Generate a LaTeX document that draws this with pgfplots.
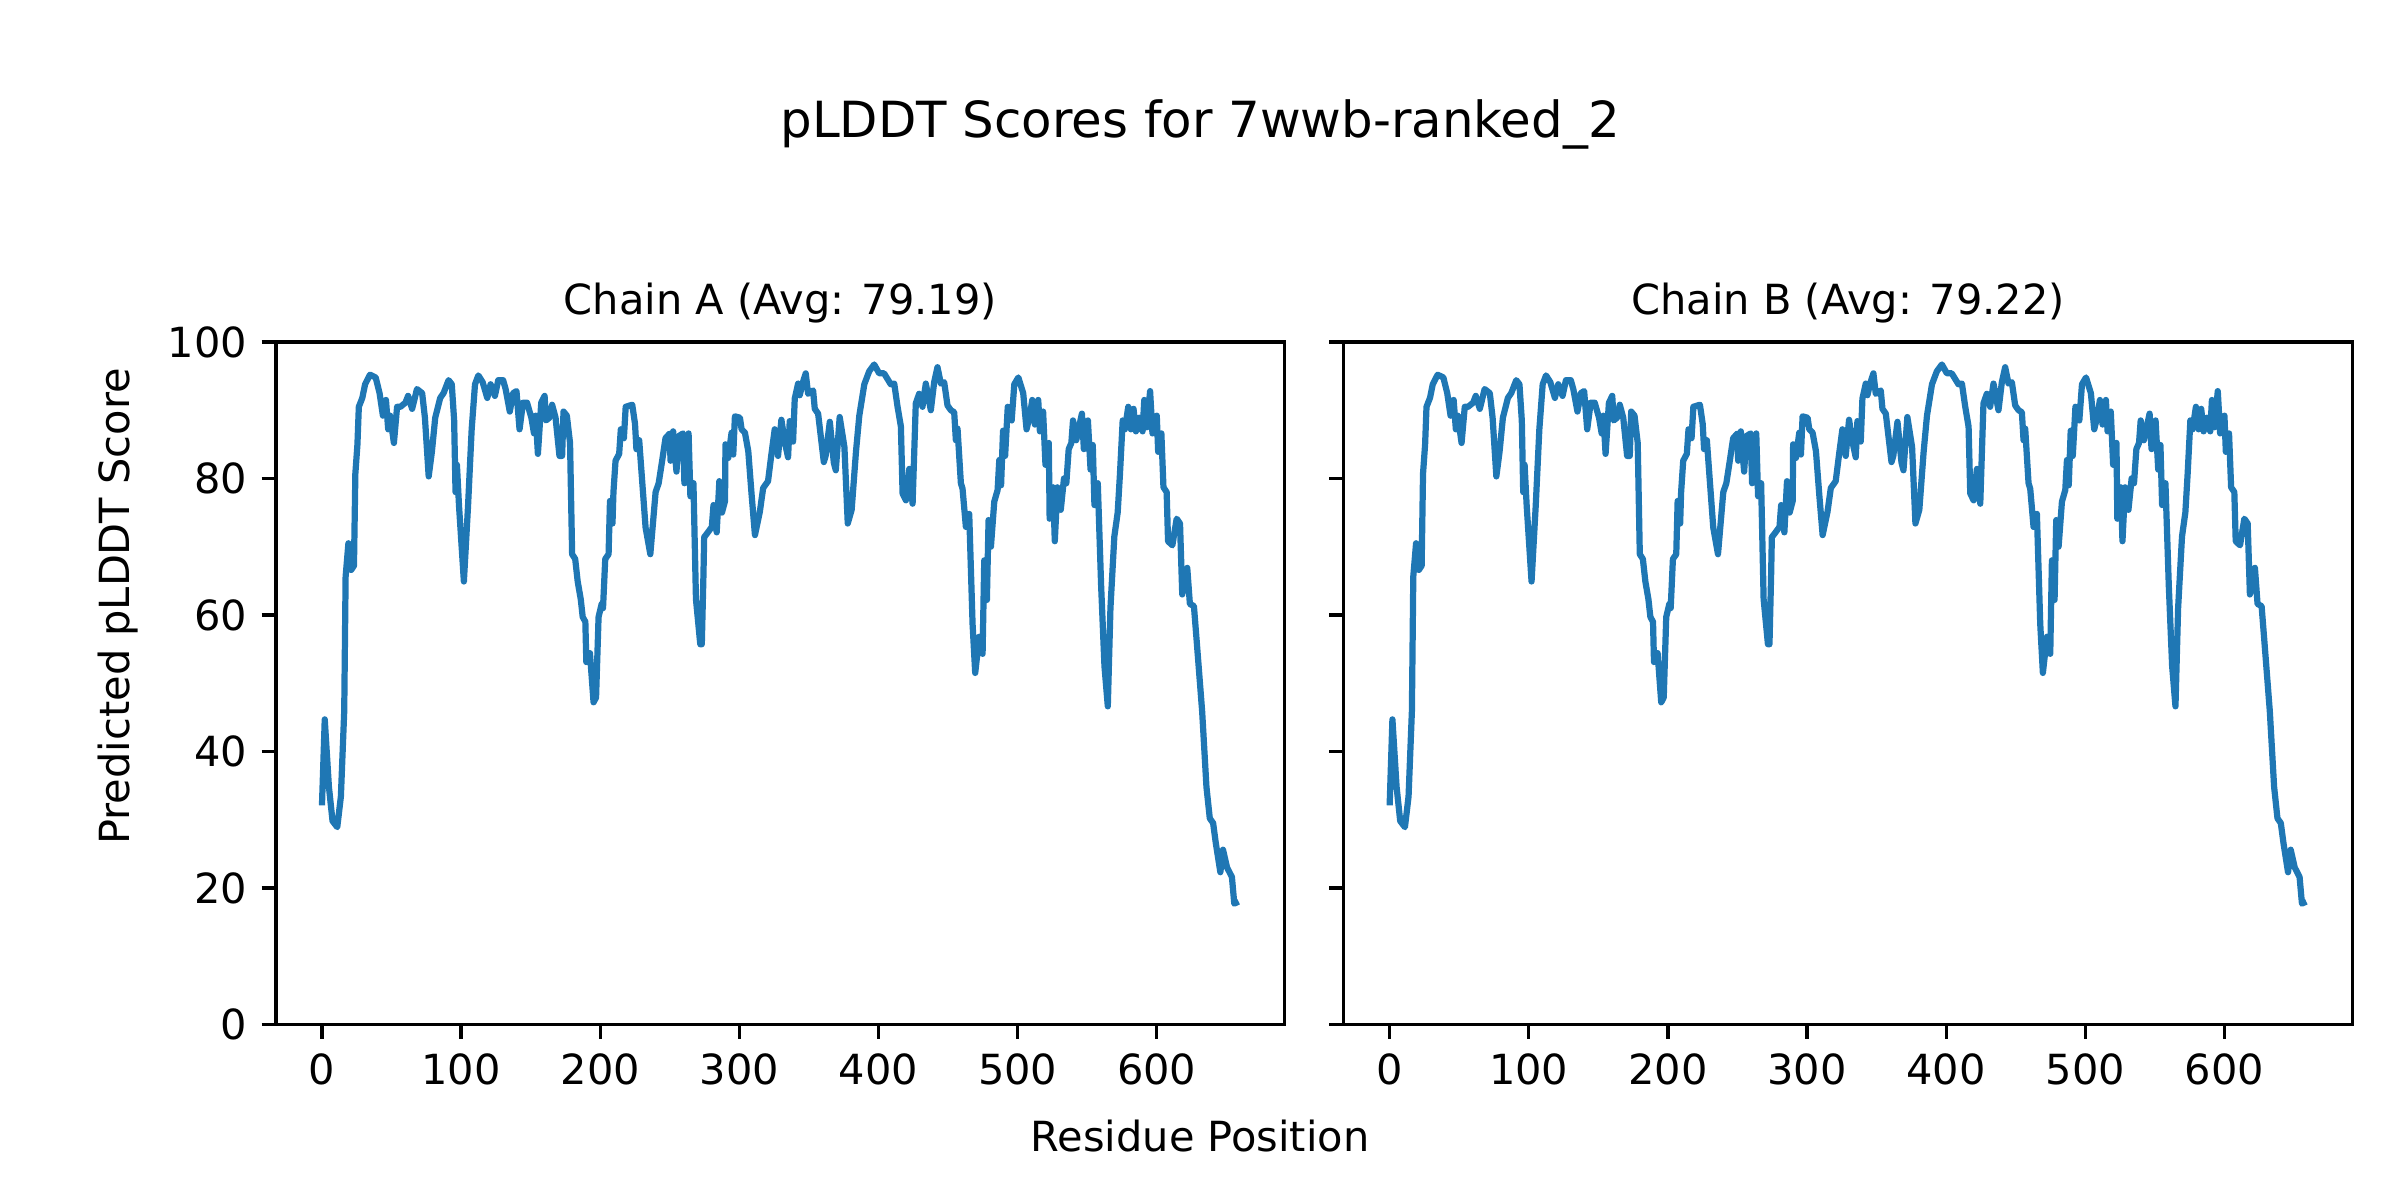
\documentclass[border=0pt]{standalone}
\usepackage{fontspec}
\setmainfont{DejaVu Sans}
\usepackage{pgfplots}
\usepackage{pgfplotstable}
\pgfplotsset{compat=1.18}
\definecolor{mplblue}{HTML}{1F77B4}

% per-residue pLDDT (both chains look the same)
\pgfplotstableread{
res score
0 32.1
2 44.7
5 34.8
7.6 29.8
11 28.9
13.6 33.4
16 45.9
17 65.6
19 70.5
21 66.6
23 67.2
24 80.7
25.5 85
26.5 90.5
29 91.8
31 93.8
34.5 95.2
38.6 94.8
41.4 92.5
43.8 89.2
46 91.5
47.6 87.2
49 89.2
51.7 85.2
54 90.5
56.4 90.5
60 91.1
61.9 92.1
64.8 90.2
68.3 93.1
72 92.5
74 88.9
76.7 80.3
79 83.9
81.4 88.9
85 91.8
87.4 92.5
91 94.4
93.3 93.8
95 88.5
96 78
97 82
98.5 76
102 64.9
105 76
107.6 87.2
110 93.8
112.4 95.1
115.5 94.1
118.8 91.8
121.2 93.8
124.3 92.1
126.7 94.4
130.2 94.4
132 93.1
135 89.8
137.4 92.5
139.8 92.8
142 87.2
144.5 91.1
147.4 91.1
150.5 88.9
152.4 86.6
153.6 89.2
155.2 83.6
157.6 91.1
160 92.1
161 88.5
163.5 88.9
165.4 90.8
167.9 88.9
170.7 83.3
172.6 83.3
173.6 89.8
176 89.2
178.3 85.2
179.8 68.9
182 68.2
183.8 64.9
186 62.3
187.4 59.7
189.3 59.0
190 53.1
192.6 54.4
195.2 47.2
197 47.9
198.8 59.7
201 61.6
202 61
203.6 68.2
206 68.9
207 76.7
208.8 73.4
209.5 78
211 82.6
213.6 83.6
214.8 87.2
217 85.9
218.3 90.5
223 90.8
225 88
226 84.3
228 85.6
230 80
232.6 72.8
236 68.9
239.8 78
242 79.3
244.5 82.6
246.9 85.9
250 86.6
250.5 82.6
252.4 86.9
254.8 81
256.4 86.2
259.5 86.6
260.5 79.3
263.5 86.6
264.8 77.4
267 79.3
268.8 62.3
271.9 55.7
273 55.7
274.2 66
274.7 71.4
277 72
280.2 72.9
281.4 76.1
283.7 72.1
285.6 79.6
287.5 75
289.7 76.7
290 85
292 83
294.4 86.7
295.6 83.5
296.8 89.1
300.4 88.9
301.6 87.2
304 86.7
306.4 84
308.8 77.6
311.2 71.7
314.7 75.1
317.1 78.6
320.6 79.6
323 83.5
325.4 87.2
327.8 83.3
330.2 88.6
332.6 85.4
335 83.1
336.2 88.4
338.6 85.4
339.8 91.7
342.2 93.9
343.4 92.2
345.5 94
347.7 95.4
349.4 92.4
353 92.9
354.2 90.2
356.6 89.5
360.7 82.4
362 83.3
365 88.3
367.9 82.3
369.3 81.2
372.1 89
375.5 84.6
377.9 73.4
380.7 75.4
383.8 83.9
386.2 89.2
389.8 93.8
393.3 95.7
396.9 96.7
400.5 95.4
404 95.4
408.8 93.8
411.3 93.9
413.7 90.5
416.1 87.6
417.3 77.8
419.7 76.8
422.1 81.4
424.5 76.3
426.8 91
429.2 92.4
431.6 90.5
434 93.9
437.6 90
440 94.1
442.4 96.3
444.8 93.9
447.2 94.1
449.6 90.7
452 90
454.4 89.7
455.6 85.6
456.8 87.3
459.2 79.3
460.4 78.5
462.8 72.9
465.2 74.8
467.6 58.7
469.5 51.5
472.4 56.8
474.8 54.3
476 68
477.9 62.2
479.1 73.9
480.8 70
483.2 76.6
485.6 78.3
486.8 82.7
488.1 79
489.5 87
491 83.3
492.9 90.5
495.7 88.5
497.6 93.8
500.5 94.8
504 92.5
506.4 87.2
508.8 89.2
510.5 91.5
512.4 87.9
514.8 91.5
516 86.9
518.3 89.8
520 82
522.4 85.2
523 74.1
525.5 78.7
526.7 70.8
528.6 78.7
531 75.4
533.3 80
535 79.3
536.7 84.3
538.6 85.2
539.8 88.5
542.1 85.6
546.2 89.5
547.6 84.3
550.5 88.5
552.4 81.3
554 84.9
555.2 76.1
557.6 79.3
560 64.3
562.4 52.5
564.8 46.6
566.7 61
569.5 71.5
571.9 75
573.5 80.5
575.5 88.5
577.1 87.2
579.5 90.5
581.4 87.2
583.3 90.2
585 86.9
587.4 88.9
589.8 86.9
591 91.5
592.9 87.5
595.2 92.8
596.9 86.6
600 89.2
601 83.9
603.3 86.6
604.8 78.7
607.1 78
608.1 70.8
611.2 70.2
614.3 74.1
616.7 73.4
618.3 63
621.9 66.9
623.8 61.6
626.7 61.3
628.6 56.4
632.6 45.9
635.7 34.8
638.1 30.2
640.5 29.5
642.4 26.6
645.7 22.3
647.6 25.6
650.5 23
654 21.6
655.7 17.7
658.8 18
}\chainA

\pgfplotsset{plddt/.style={
    scale only axis, width=243pt, height=164.4pt,
    anchor=south west,
    xmin=-33, xmax=692, ymin=0, ymax=100,
    xtick={0,100,...,600}, ytick={0,20,...,100},
    tick pos=left, tick align=outside,
    major tick length=3.5pt,
    every tick/.style={black, line width=0.8pt},
    axis line style={line width=0.8pt},
    tick label style={font=\fontsize{10}{12}\selectfont},
    /pgf/number format/assume math mode=true,
    title style={at={(0.5,1)}, anchor=base, yshift=0.5pt,
        font=\fontsize{10}{12}\selectfont},
}}

\begin{document}
\begin{tikzpicture}
\path[use as bounding box] (0,0) rectangle (578.16pt,289.08pt);

\begin{axis}[plddt, at={(66.5pt,42.3pt)}, title={Chain A (Avg: 79.19)}]
  \addplot[mplblue, line width=1.5pt, line join=round] table[x=res, y=score] {\chainA};
\end{axis}

\begin{axis}[plddt, at={(323.7pt,42.3pt)}, title={Chain B (Avg: 79.22)}, yticklabels={}]
  \addplot[mplblue, line width=1.5pt, line join=round] table[x=res, y=score] {\chainA};
\end{axis}

\node[anchor=base, font=\fontsize{12}{14}\selectfont] at (289.08pt,256pt) {pLDDT Scores for 7wwb-ranked\_2};
\node[anchor=base, font=\fontsize{10}{12}\selectfont] at (289.08pt,11.6pt) {Residue Position};
\node[rotate=90, font=\fontsize{10}{12}\selectfont] at (28.5pt,143pt) {Predicted pLDDT Score};
\end{tikzpicture}
\end{document}
